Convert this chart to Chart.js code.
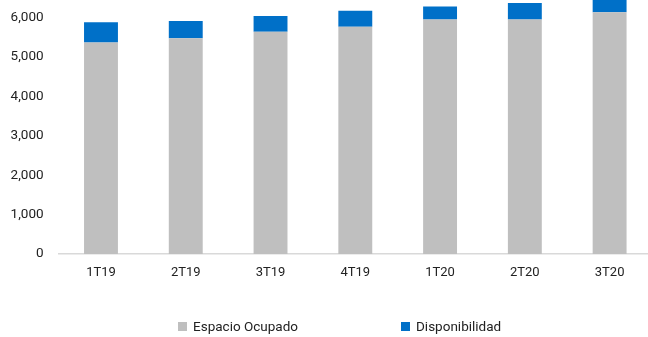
<!DOCTYPE html>
<html>
<head>
<meta charset="utf-8">
<script src="https://cdn.jsdelivr.net/npm/chart.js@4/dist/chart.umd.min.js"></script>
<style>
  html, body { margin: 0; padding: 0; overflow: hidden; background: #ffffff; }
  #wrap { position: relative; width: 652px; height: 337px; }
  #chart { display: block; }
  #legend { position: absolute; left: 0; top: 0; width: 648px; height: 337px; pointer-events: none;
            font-family: Roboto, "Noto Sans", sans-serif; font-size: 13.5px; color: #222222; }
  .item { position: absolute; top: 318px; height: 16px; display: flex; align-items: center; white-space: nowrap; }
  .box { width: 9px; height: 9px; margin-right: 6px; flex: none; }
</style>
</head>
<body>
<div id="wrap">
  <canvas id="chart" width="652" height="337"></canvas>
  <div id="legend"></div>
</div>
<script>
// Quarters shown on the category axis
const categories = ['1T19', '2T19', '3T19', '4T19', '1T20', '2T20', '3T20'];

// Occupied space per quarter
const espacioOcupado = [5370, 5475, 5640, 5770, 5955, 5955, 6135];

// Available (vacant) space per quarter
const disponibilidad = [510, 440, 400, 405, 330, 415, 400];

// Value-axis ticks
const yTicks = [0, 1000, 2000, 3000, 4000, 5000, 6000];

const seriesNames = ['Espacio Ocupado', 'Disponibilidad'];
const seriesColors = ['#bfbfbf', '#0070c8'];

const textColor = '#222222';
const fontFamily = 'Roboto, "Noto Sans", sans-serif';

const chart = new Chart(document.getElementById('chart'), {
  type: 'bar',
  data: {
    labels: categories,
    datasets: [
      { label: seriesNames[0], data: espacioOcupado, backgroundColor: seriesColors[0], borderWidth: 0,
        barPercentage: 0.4, categoryPercentage: 1.0 },
      { label: seriesNames[1], data: disponibilidad, backgroundColor: seriesColors[1], borderWidth: 0,
        barPercentage: 0.4, categoryPercentage: 1.0 }
    ]
  },
  options: {
    responsive: false,
    animation: false,
    layout: { padding: 0 },
    plugins: {
      legend: { display: false },
      tooltip: { enabled: false }
    },
    scales: {
      x: {
        stacked: true,
        grid: { display: false, drawTicks: false },
        border: { display: true, color: '#d9d9d9', width: 1.5 },
        ticks: { color: textColor, padding: 11, font: { family: fontFamily, size: 13 } },
        afterFit: s => { s.height = 83; s.paddingLeft = 0; s.paddingRight = 0; }
      },
      y: {
        stacked: true,
        min: 0,
        max: 6447,
        grid: { display: false, drawTicks: false },
        border: { display: false },
        ticks: {
          padding: 15,
          color: textColor,
          font: { family: fontFamily, size: 13.5 },
          callback: v => v.toLocaleString('en-US')
        },
        afterBuildTicks: s => { s.ticks = yTicks.map(v => ({ value: v })); },
        afterFit: s => { s.width = 58.6; s.paddingTop = 0; s.paddingBottom = 0; }
      }
    }
  }
});

// Legend below the plot, built from the dataset labels and colours
const legendEl = document.getElementById('legend');
const legendLeft = [178, 401];
chart.data.datasets.forEach((ds, i) => {
  const item = document.createElement('div');
  item.className = 'item';
  item.style.left = legendLeft[i] + 'px';
  const box = document.createElement('span');
  box.className = 'box';
  box.style.background = ds.backgroundColor;
  const txt = document.createElement('span');
  txt.textContent = ds.label;
  item.appendChild(box);
  item.appendChild(txt);
  legendEl.appendChild(item);
});
</script>
</body>
</html>
